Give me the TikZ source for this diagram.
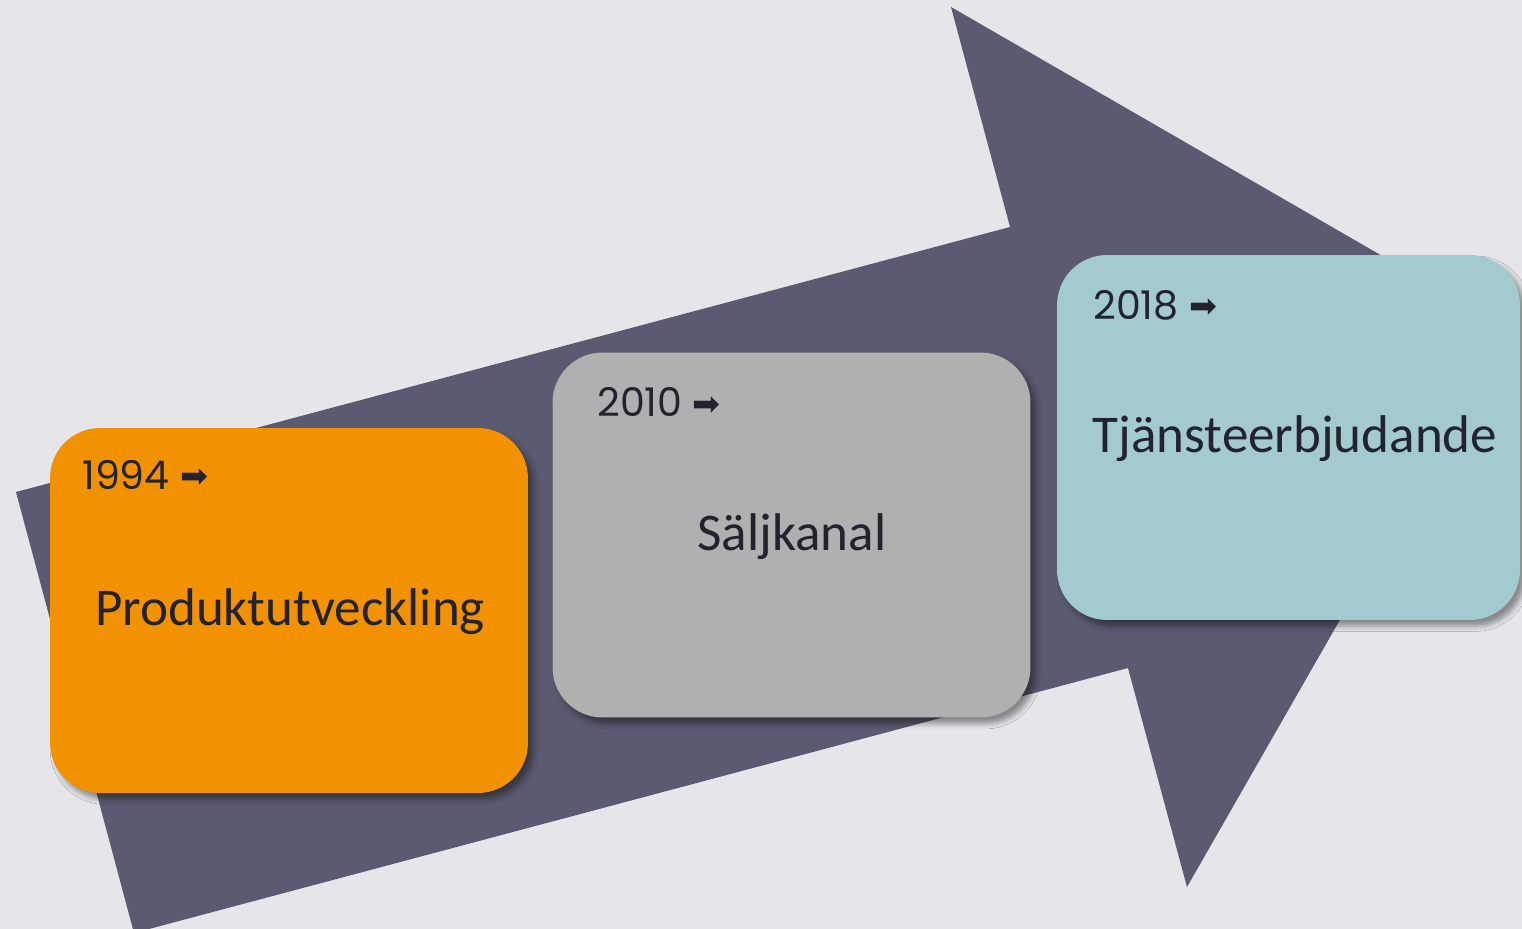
\documentclass[tikz,border=0pt]{standalone}
\usepackage{fontspec}
\setmainfont{Carlito}
\newfontfamily\yearfont{Poppins}
\newfontfamily\symfont{DejaVu Sans}
\usetikzlibrary{shadows.blur}
\definecolor{bgcol}{HTML}{E5E5EA}
\definecolor{arrowcol}{HTML}{5A5A70}
\definecolor{orangecol}{HTML}{F39200}
\definecolor{graycol}{HTML}{B0B0B0}
\definecolor{tealcol}{HTML}{A2CACF}
\definecolor{textdark}{HTML}{23232F}
\newcommand{\yeararrow}{\raisebox{1pt}{\symfont\fontsize{19}{22}\selectfont ➡}}

\begin{document}
\begin{tikzpicture}[x=0.02cm, y=-0.02cm]
    \tikzstyle{stage}=[rectangle, rounded corners=1cm, minimum width=9.56cm, minimum height=7.3cm, inner sep=0pt, blur shadow={shadow xshift=3pt, shadow yshift=-3.5pt, shadow blur radius=3pt, shadow opacity=40}]
    \tikzstyle{year}=[anchor=base west, inner sep=0pt, text=textdark, font=\yearfont\fontsize{22.5}{27}\selectfont]
    \tikzstyle{title}=[anchor=base, inner sep=0pt, text=textdark, font=\fontsize{30.2}{36}\selectfont]

    \useasboundingbox (0,0) rectangle (1522,929);
    \fill[bgcol] (0,0) rectangle (1522,929);
    \clip (0,0) rectangle (1522,929);

    % Draw the big arrow
    \fill[arrowcol] (16,492) -- (1010,227) -- (951,7) -- (1507,328) -- (1187,887) -- (1128,668) -- (134,933) -- cycle;

    % Draw the stage boxes
    \node[stage, fill=orangecol] (S-1) at (289,610.5) {};
    \node[stage, fill=graycol] (S-2) at (791.5,535) {};
    \node[stage, fill=tealcol, minimum width=9.26cm] (S-3) at (1288.5,437.5) {};

    % Years
    \node[year] (Y-1) at (82,489) {1994 \yeararrow};
    \node[year] (Y-2) at (597,417) {2010 \yeararrow};
    \node[year] (Y-3) at (1093,319) {2018 \yeararrow};

    % Titles
    \node[title] (T-1) at (290,625) {Produktutveckling};
    \node[title] (T-2) at (792,550) {Säljkanal};
    \node[title] (T-3) at (1295,452) {Tjänsteerbjudande};
\end{tikzpicture}
\end{document}
